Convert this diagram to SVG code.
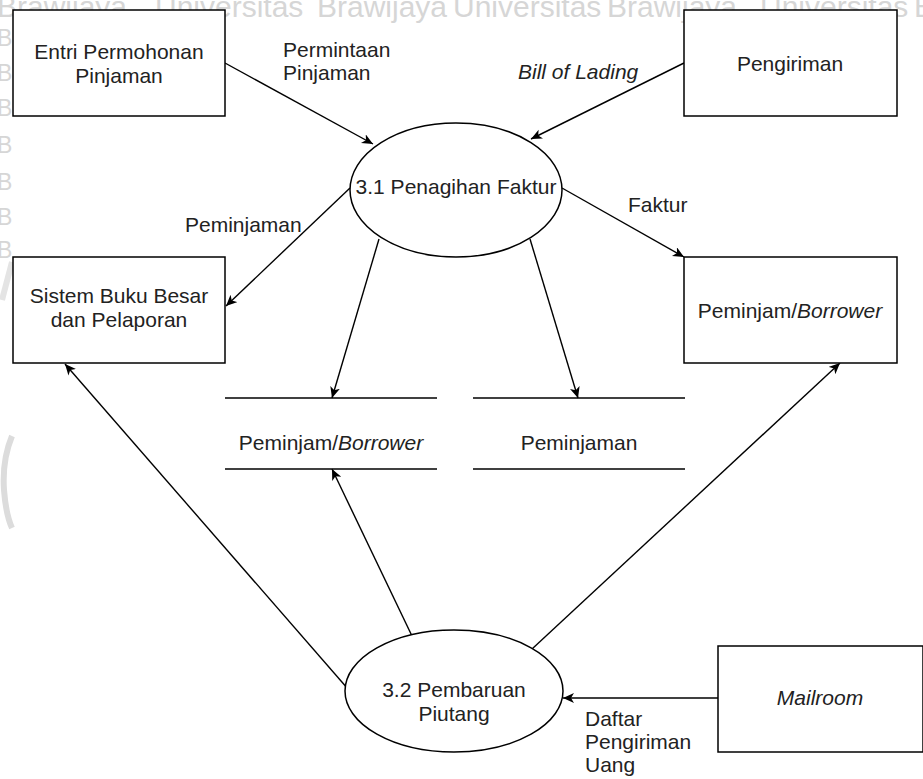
<svg xmlns="http://www.w3.org/2000/svg" width="923" height="779" viewBox="0 0 923 779">
  <defs>
    <marker id="arrow" markerUnits="userSpaceOnUse" markerWidth="14" markerHeight="12" refX="11" refY="5" orient="auto">
      <path d="M0,0 L11,5 L0,10 L3,5 z" fill="#000"/>
    </marker>
  </defs>
  <style>
    .box { fill: #fff; stroke: #000; stroke-width: 1.5; }
    .proc { fill: #fff; stroke: #000; stroke-width: 1.5; }
    .store { stroke: #000; stroke-width: 1.5; }
    .flow { fill: none; stroke: #000; stroke-width: 1.4; marker-end: url(#arrow); }
    text { font-family: "Liberation Sans", Arial, sans-serif; font-size: 21px; fill: #222; }
    .c { text-anchor: middle; }
    .i { font-style: italic; }
    .wm { fill: #d6d6d6; font-size: 30px; }
    .wmb { fill: #d6d6d6; font-size: 23px; }
  </style>
  <rect width="923" height="779" fill="#fff"/>

  <!-- faint background lettering -->
  <g id="watermark">
    <text class="wm" x="-3" y="17">Brawijaya</text>
    <text class="wm" x="155" y="17">Universitas</text>
    <text class="wm" x="317" y="17">Brawijaya</text>
    <text class="wm" x="453" y="17">Universitas</text>
    <text class="wm" x="607" y="17">Brawijaya</text>
    <text class="wm" x="760" y="17">Universitas</text>
    <text class="wm" x="914" y="17">B</text>
    <text class="wmb" x="-3" y="46">B</text>
    <text class="wmb" x="-3" y="81">B</text>
    <text class="wmb" x="-3" y="116">B</text>
    <text class="wmb" x="-3" y="153">B</text>
    <text class="wmb" x="-3" y="190">B</text>
    <text class="wmb" x="-3" y="225">B</text>
    <text class="wmb" x="-3" y="258">B</text>
    <path d="M12,436 Q2,460 4,490 Q6,515 12,528" fill="none" stroke="#dcdcdc" stroke-width="6"/>
    <path d="M12,262 L2,300" fill="none" stroke="#e4e4e4" stroke-width="6"/>
  </g>

  <!-- data flows -->
  <g id="connectors">
    <line class="flow" x1="225" y1="63" x2="373" y2="144"/>
    <line class="flow" x1="684" y1="63" x2="531" y2="139"/>
    <line class="flow" x1="350" y1="188" x2="226" y2="306"/>
    <line class="flow" x1="562" y1="188" x2="684" y2="257"/>
    <line class="flow" x1="379" y1="239" x2="332" y2="398"/>
    <line class="flow" x1="530" y1="239" x2="578" y2="398"/>
    <line class="flow" x1="412" y1="636" x2="332" y2="469"/>
    <line class="flow" x1="532" y1="649" x2="840" y2="363"/>
    <line class="flow" x1="348" y1="689" x2="65" y2="364"/>
    <line class="flow" x1="718" y1="698" x2="563" y2="698"/>
  </g>

  <!-- flow labels -->
  <g id="labels">
    <text x="283" y="57">Permintaan</text>
    <text x="283" y="80">Pinjaman</text>
    <text class="i" x="518" y="79">Bill of Lading</text>
    <text x="185" y="232">Peminjaman</text>
    <text x="628" y="212">Faktur</text>
    <text x="585" y="726">Daftar</text>
    <text x="585" y="749">Pengiriman</text>
    <text x="585" y="772">Uang</text>
  </g>

  <g id="entri-permohonan">
    <rect class="box" x="13" y="10" width="212" height="106"/>
    <text class="c" x="119" y="59">Entri Permohonan</text>
    <text class="c" x="119" y="83">Pinjaman</text>
  </g>

  <g id="pengiriman">
    <rect class="box" x="684" y="10" width="213" height="106"/>
    <text class="c" x="790" y="71">Pengiriman</text>
  </g>

  <g id="proses-3-1">
    <ellipse class="proc" cx="456" cy="190" rx="106" ry="67"/>
    <text class="c" x="456" y="194">3.1 Penagihan Faktur</text>
  </g>

  <g id="sistem-buku-besar">
    <rect class="box" x="13" y="257" width="212" height="106"/>
    <text class="c" x="119" y="303">Sistem Buku Besar</text>
    <text class="c" x="119" y="327">dan Pelaporan</text>
  </g>

  <g id="peminjam-borrower">
    <rect class="box" x="684" y="257" width="213" height="106"/>
    <text class="c" x="790" y="318">Peminjam/<tspan class="i">Borrower</tspan></text>
  </g>

  <g id="store-peminjam">
    <line class="store" x1="225" y1="398" x2="437" y2="398"/>
    <line class="store" x1="225" y1="469" x2="437" y2="469"/>
    <text class="c" x="331" y="450">Peminjam/<tspan class="i">Borrower</tspan></text>
  </g>

  <g id="store-peminjaman">
    <line class="store" x1="473" y1="398" x2="685" y2="398"/>
    <line class="store" x1="473" y1="469" x2="685" y2="469"/>
    <text class="c" x="579" y="450">Peminjaman</text>
  </g>

  <g id="proses-3-2">
    <ellipse class="proc" cx="454" cy="691" rx="109" ry="61"/>
    <text class="c" x="454" y="697">3.2 Pembaruan</text>
    <text class="c" x="454" y="721">Piutang</text>
  </g>

  <g id="mailroom">
    <rect class="box" x="718" y="646" width="205" height="106"/>
    <text class="c i" x="820" y="705">Mailroom</text>
  </g>
</svg>
